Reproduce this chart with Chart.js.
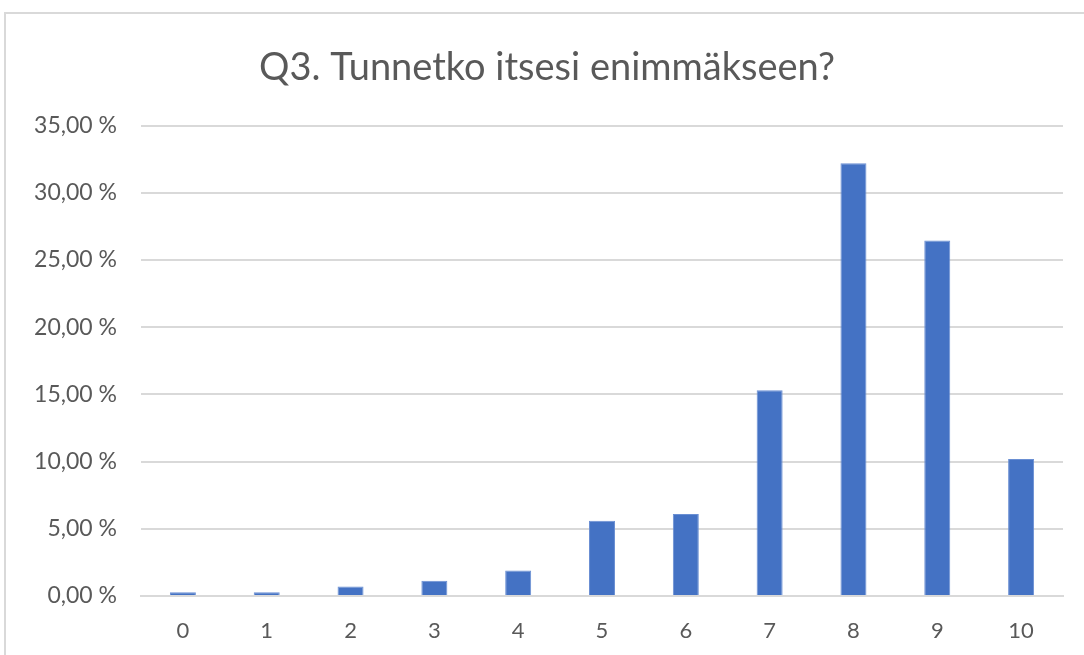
<!DOCTYPE html>
<html>
<head>
<meta charset="utf-8">
<script src="https://cdn.jsdelivr.net/npm/chart.js@4/dist/chart.umd.min.js"></script>
<style>
  body{margin:0;background:#fff;}
  #frame{position:absolute;left:4px;top:12px;width:1090px;height:660px;border-left:2px solid #d9d9d9;border-top:2px solid #d9d9d9;}
  #wrap{position:absolute;left:0;top:0;width:1084px;height:655px;}
</style>
</head>
<body>
<div id="frame"></div>
<div id="wrap"><canvas id="data_chart"></canvas></div>
<script>
const title_text="Q3. Tunnetko itsesi enimmäkseen?"
const categories=["0","1","2","3","4","5","6","7","8","9","10"]
const shares=[0.28,0.28,0.7,1.14,1.9,5.6,6.1,15.3,32.2,26.45,10.2]
const y_ticks=[0,5,10,15,20,25,30,35]

const font_name="Lato, 'Open Sans', sans-serif"

let data_chart=new Chart('data_chart',{
  type:'bar',
  data:{
    labels:categories,
    datasets:[{
      data:shares,
      backgroundColor:'#4472C4',
      borderColor:'#6a8fd3',
      borderWidth:1,
      categoryPercentage:1,
      barPercentage:0.31
    }]
  },
  options:{
    responsive:true,
    maintainAspectRatio:false,
    animation:false,
    layout:{padding:{left:31,right:21,top:0,bottom:0}},
    plugins:{
      legend:{display:false},
      tooltip:{enabled:false},
      title:{
        display:true,
        text:title_text,
        color:'#595959',
        font:{family:font_name,size:38,weight:'normal'},
        padding:{top:45,bottom:35}
      }
    },
    scales:{
      x:{
        grid:{display:false,drawTicks:false},
        border:{color:'#d9d9d9',width:2},
        ticks:{color:'#595959',font:{family:font_name,size:22},padding:22},
        afterFit:function(scale){scale.height=59}
      },
      y:{
        min:0,max:35,
        afterBuildTicks:function(scale){scale.ticks=y_ticks.map(v=>({value:v}))},
        grid:{color:'#d9d9d9',lineWidth:2,drawTicks:false},
        border:{display:false},
        ticks:{
          color:'#595959',
          font:{family:font_name,size:23},
          padding:24,
          callback:function(v){return v.toFixed(2).replace('.',',')+' %'}
        },
        afterFit:function(scale){scale.width=110}
      }
    }
  }
})
</script>
</body>
</html>
